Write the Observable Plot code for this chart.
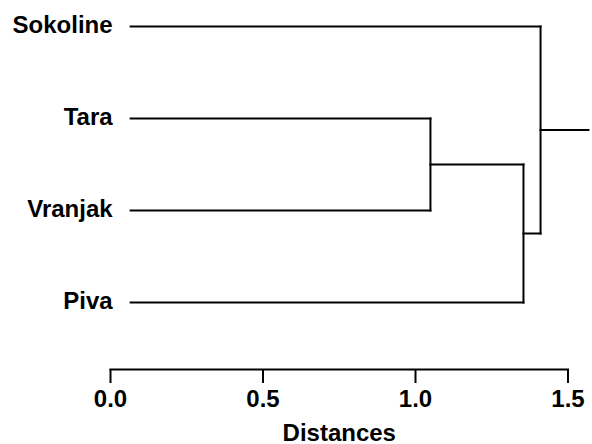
<!DOCTYPE html>
<html>
<head>
<meta charset="utf-8">
<script src="https://cdn.jsdelivr.net/npm/d3@7"></script>
<script src="https://cdn.jsdelivr.net/npm/@observablehq/plot@0.6"></script>
<style>
  html, body { margin: 0; padding: 0; background: #fff; }
</style>
</head>
<body>
<div id="chart"></div>
<script>
// Leaves, top to bottom
const labels = ["Sokoline", "Tara", "Vranjak", "Piva"];
// hclust-style merge table: negative = leaf (1-based), positive = earlier cluster
const merges = [[-2, -3], [-4, 1], [-1, 2]];
const mergeHeights = [1.049, 1.354, 1.410];
const leafStart = 0.066;   // where leaf branches begin
const rootEnd = 1.567;     // end of the root stub
const xTicks = [0, 0.5, 1.0, 1.5];
const axisTitle = "Distances";

// Build the dendrogram segments from the merge table
const nodeX = [], nodeY = [];
const segs = [];
function childPos(c) {
  if (c < 0) return {x: leafStart, y: -c - 1};
  return {x: nodeX[c - 1], y: nodeY[c - 1]};
}
merges.forEach((m, i) => {
  const h = mergeHeights[i];
  const a = childPos(m[0]), b = childPos(m[1]);
  segs.push({x1: a.x, y1: a.y, x2: h, y2: a.y});
  segs.push({x1: b.x, y1: b.y, x2: h, y2: b.y});
  segs.push({x1: h, y1: a.y, x2: h, y2: b.y});
  nodeX[i] = h;
  nodeY[i] = (a.y + b.y) / 2;
});
const last = merges.length - 1;
segs.push({x1: nodeX[last], y1: nodeY[last], x2: rootEnd, y2: nodeY[last]});

const leaves = labels.map((name, i) => ({name, x: leafStart, y: i}));

const chart = Plot.plot({
  width: 592,
  height: 444,
  marginLeft: 110,
  marginRight: 24.5,
  marginTop: 26,
  marginBottom: 75,
  style: {fontFamily: "'Liberation Sans', Arial, sans-serif", fontWeight: "bold", fontSize: "24px", background: "#fff", color: "#000", overflow: "visible"},
  x: {domain: [0, 1.5]},
  y: {domain: [0, 3], range: [26, 302], axis: null},
  marks: [
    Plot.frame({anchor: "bottom", stroke: "#000", strokeWidth: 2}),
    Plot.axisX({ticks: xTicks, tickFormat: d3.format(".1f"), tickSize: 14, tickPadding: 6, strokeWidth: 2, fontSize: 24, fontWeight: "bold", label: null, fill: "#000", stroke: "#000"}),
    Plot.text([axisTitle], {frameAnchor: "bottom", lineAnchor: "top", dy: 54, text: d => d, fontSize: 24, fontWeight: "bold", fill: "#000"}),
    Plot.link(segs, {x1: "x1", y1: "y1", x2: "x2", y2: "y2", stroke: "#000", strokeWidth: 2, strokeLinecap: "square", clip: false}),
    Plot.text(leaves, {x: "x", y: "y", text: "name", textAnchor: "end", dx: -18, dy: -1, fontSize: 24, fontWeight: "bold", fill: "#000"})
  ]
});
document.getElementById("chart").appendChild(chart);
</script>
</body>
</html>
